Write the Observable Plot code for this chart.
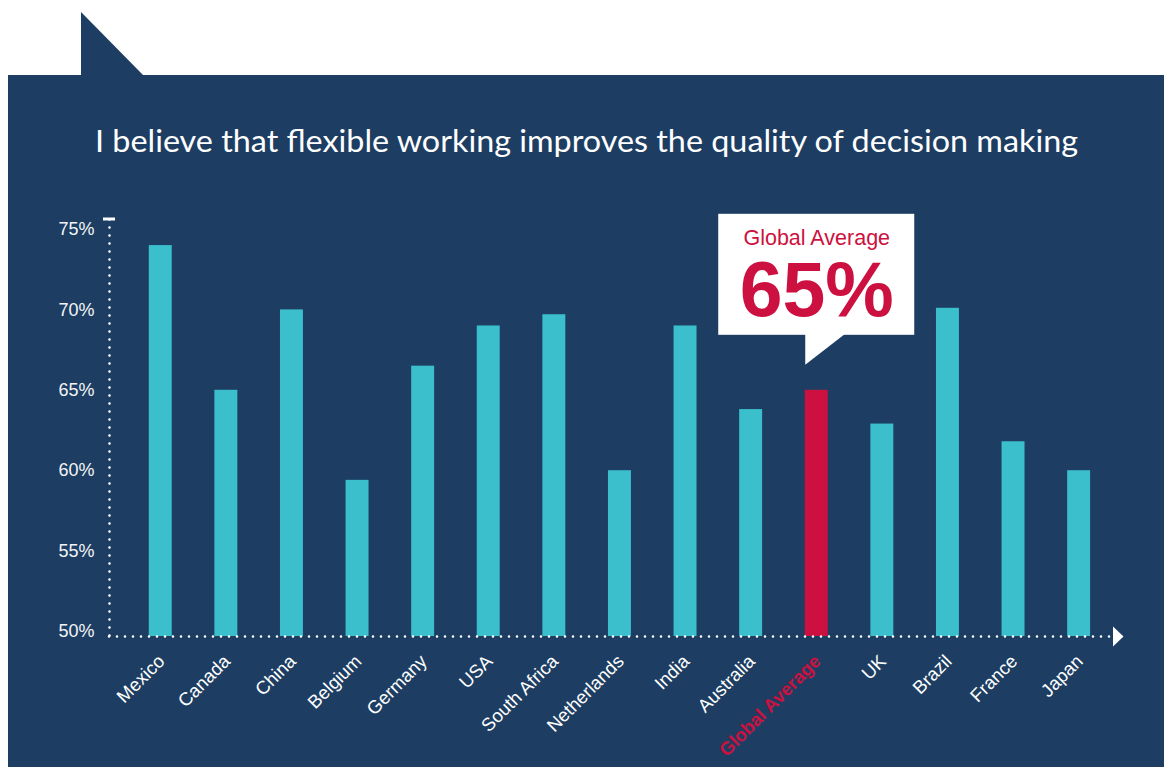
<!DOCTYPE html>
<html>
<head>
<meta charset="utf-8">
<script src="https://cdn.jsdelivr.net/npm/d3@7"></script>
<script src="https://cdn.jsdelivr.net/npm/@observablehq/plot@0.6"></script>
<style>
  html, body { margin: 0; padding: 0; background: #ffffff; }
  #stage { position: relative; width: 1168px; height: 767px; overflow: hidden; }
  #panel { position: absolute; left: 8px; top: 75px; width: 1156px; height: 692px; background: #1d3e62; }
  #tab { position: absolute; left: 81px; top: 12px; }
  #title { position: absolute; left: 0; top: 0; }
  #chart { position: absolute; left: 0; top: 0; }
</style>
</head>
<body>
<div id="stage">
  <div id="panel"></div>
  <svg id="tab" width="63" height="64"><polygon points="0,0 0,64 63,64" fill="#1d3e62"/></svg>
  <svg id="title" width="1168" height="200">
    <text x="95" y="152" textLength="983" lengthAdjust="spacingAndGlyphs"
      font-family="'Comic Sans MS', 'Segoe Print', Lato, sans-serif" font-size="31" fill="#ffffff">I believe that flexible working improves the quality of decision making</text>
  </svg>
  <div id="chart"></div>
</div>
<script>
// Share of respondents agreeing, by country
const countries = ["Mexico", "Canada", "China", "Belgium", "Germany", "USA", "South Africa",
  "Netherlands", "India", "Australia", "Global Average", "UK", "Brazil", "France", "Japan"];
const values = [74, 65, 70, 59.4, 66.5, 69, 69.7, 60, 69, 63.8, 65, 62.9, 70.1, 61.8, 60];
const yTicks = [50, 55, 60, 65, 70, 75];
const highlight = "Global Average";

const teal = "#3bbfcd";
const red = "#cc1140";
const white = "#ffffff";
const sans = "'Liberation Sans', Arial, Helvetica, sans-serif";

const data = countries.map((country, i) => ({country, value: values[i]}));
const avg = data.filter(d => d.country === highlight);
const others = data.filter(d => d.country !== highlight);

// Speech-bubble callout sitting above the highlighted bar
function callout(index, scales, values, dims) {
  const x = scales.x, y = scales.y;
  const bw = typeof x.bandwidth === "function" ? x.bandwidth() : 0;
  const g = d3.create("svg:g");
  for (const d of avg) {
    const cx = x(d.country) + bw / 2;
    const top = y(d.value);
    const boxBottom = top - 55;
    const boxTop = top - 176;
    g.append("rect")
      .attr("x", cx - 98).attr("y", boxTop)
      .attr("width", 196).attr("height", boxBottom - boxTop)
      .attr("fill", white);
    g.append("polygon")
      .attr("points", [[cx - 11, boxBottom - 1], [cx - 11, top - 25], [cx + 29, boxBottom - 1]].map(p => p.join(",")).join(" "))
      .attr("fill", white);
  }
  return g.node();
}

// Axis decorations: cap tick on the vertical axis and arrowhead on the horizontal one
function axisEnds(index, scales, values, dims) {
  const {width, height, marginLeft, marginRight, marginTop, marginBottom} = dims;
  const g = d3.create("svg:g");
  g.append("line")
    .attr("x1", marginLeft - 6).attr("x2", marginLeft + 6)
    .attr("y1", marginTop - 10).attr("y2", marginTop - 10)
    .attr("stroke", white).attr("stroke-width", 3);
  const ax = width - marginRight + 1;
  const ay = height - marginBottom + 5.5;
  g.append("polygon")
    .attr("points", `${ax},${ay - 10} ${ax + 10.5},${ay} ${ax},${ay + 10}`)
    .attr("fill", white);
  return g.node();
}

const chart = Plot.plot({
  width: 1168,
  height: 767,
  marginLeft: 109,
  marginRight: 56,
  marginTop: 229,
  marginBottom: 136,
  style: {background: "transparent", color: white, fontFamily: sans, overflow: "visible"},
  x: {domain: countries, paddingInner: 0.65, paddingOuter: 0.47, align: 0.645, round: false, axis: null},
  y: {domain: [50, 75], axis: null},
  color: {type: "identity"},
  marks: [
    Plot.axisY({
      ticks: yTicks,
      tickFormat: d => `${d}%`,
      tickSize: 0,
      tickPadding: 15,
      fontSize: 18,
      fill: "#f2f4f7",
      label: null
    }),
    Plot.barY(data, {
      x: "country",
      y1: 50,
      y2: "value",
      fill: d => d.country === highlight ? red : teal,
      insetBottom: -5
    }),
    // dotted axes
    Plot.frame({anchor: "left", stroke: white, strokeWidth: 2.6, strokeDasharray: "0 8",
      strokeLinecap: "round", insetTop: -10, insetBottom: -5}),
    Plot.ruleY([50], {stroke: white, strokeWidth: 2.6, strokeDasharray: "0 8",
      strokeLinecap: "round", dy: 5}),
    axisEnds,
    // category labels
    Plot.text(others, {
      x: "country",
      frameAnchor: "bottom",
      text: "country",
      rotate: -45,
      textAnchor: "end",
      lineAnchor: "bottom",
      dx: 5,
      dy: 31,
      fontSize: 18.5,
      fill: white
    }),
    Plot.text(avg, {
      x: "country",
      frameAnchor: "bottom",
      text: "country",
      rotate: -45,
      textAnchor: "end",
      lineAnchor: "bottom",
      dx: 5,
      dy: 31,
      fontSize: 18.5,
      fontWeight: "bold",
      fill: red
    }),
    callout,
    Plot.text(avg, {
      x: "country",
      y: "value",
      text: () => "Global Average",
      lineAnchor: "bottom",
      dy: -145,
      fontSize: 21.5,
      fill: red
    }),
    Plot.text(avg, {
      x: "country",
      y: "value",
      text: d => `${d.value}%`,
      lineAnchor: "bottom",
      dy: -74,
      fontSize: 77,
      fontWeight: "bold",
      fill: red
    })
  ]
});

document.getElementById("chart").appendChild(chart);
</script>
</body>
</html>
